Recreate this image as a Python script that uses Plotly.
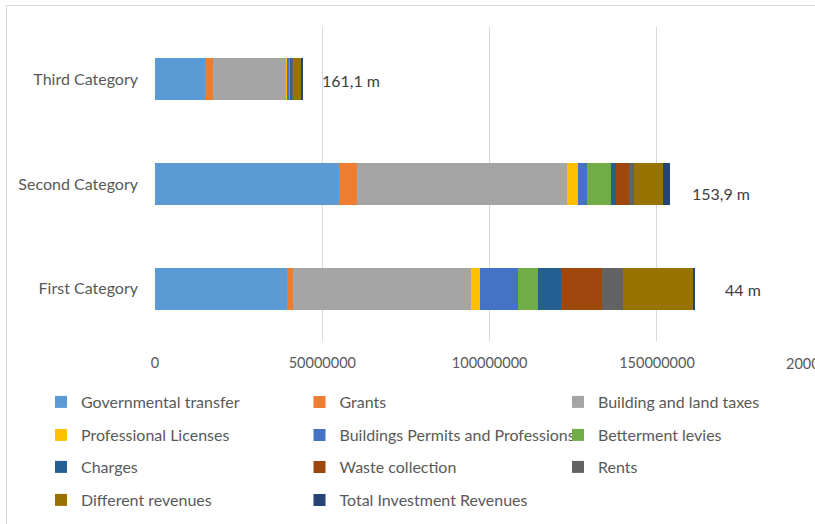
import plotly.graph_objects as go

categories = ["First Category", "Second Category", "Third Category"]

series_names = [
    "Governmental transfer", "Grants", "Building and land taxes",
    "Professional Licenses", "Buildings Permits and Professions", "Betterment levies",
    "Charges", "Waste collection", "Rents",
    "Different revenues", "Total Investment Revenues",
]
colors = ["#5B9BD5", "#ED7D31", "#A5A5A5", "#FFC000", "#4472C4", "#70AD47",
          "#255E91", "#9E480E", "#636363", "#997300", "#264478"]

# values in units (First, Second, Third)
governmental_transfer = [39.3e6, 55.1e6, 14.9e6]
grants = [1.8e6, 5.3e6, 2.4e6]
building_land_taxes = [53.4e6, 62.8e6, 22.1e6]
professional_licenses = [2.6e6, 3.2e6, 0.3e6]
building_permits = [11.4e6, 2.8e6, 0.2e6]
betterment_levies = [5.8e6, 7.1e6, 0.6e6]
charges = [7.0e6, 1.4e6, 0.2e6]
waste_collection = [12.3e6, 3.8e6, 0.4e6]
rents = [6.3e6, 1.6e6, 0.2e6]
different_revenues = [21.1e6, 8.8e6, 2.6e6]
total_investment = [0.5e6, 1.9e6, 0.3e6]

series_values = [governmental_transfer, grants, building_land_taxes, professional_licenses,
                 building_permits, betterment_levies, charges, waste_collection, rents,
                 different_revenues, total_investment]

total_labels = ["44 m", "153,9 m", "161,1 m"]
label_x = [169.8e6, 159.8e6, 49.3e6]
label_shift = [-1, -9, -1]

x_ticks = [0, 50000000, 100000000, 150000000]

FONT = "Lato"
TXT = "#595959"
W, H = 815, 524
L, R, T, B = 155, 0, 27, 183
plot_w = W - L - R
plot_h = H - T - B
x_max = plot_w / 167.33 * 50e6


def px_x(p):
    return (p - L) / plot_w


def px_y(p):
    return (H - B - p) / plot_h


fig = go.Figure()
legend_ids = ["legend"] + ["legend%d" % i for i in range(2, len(series_names) + 1)]
for i, (name, vals, col) in enumerate(zip(series_names, series_values, colors)):
    fig.add_trace(go.Bar(
        y=categories, x=vals, name=name, orientation="h",
        marker=dict(color=col, line=dict(width=0)),
        legend=legend_ids[i], showlegend=True,
    ))

for lab, xv, sh, cat in zip(total_labels, label_x, label_shift, categories):
    fig.add_annotation(x=xv, y=cat, text=lab, showarrow=False, xanchor="left",
                       yshift=sh, font=dict(family=FONT, size=16, color="#404040"))

# cut-off tick label at 200000000
fig.add_annotation(xref="paper", yref="paper", x=px_x(824), y=px_y(363),
                   text="200000000", showarrow=False, xanchor="center", yanchor="middle",
                   font=dict(family=FONT, size=14.5, color=TXT))

# outer chart border
fig.add_shape(type="rect", xref="paper", yref="paper",
              x0=px_x(6.5), x1=px_x(W + 20), y0=px_y(H + 20), y1=px_y(5.5),
              line=dict(color="#D9D9D9", width=1), fillcolor="rgba(0,0,0,0)", layer="below")

row_y = [402, 435, 467, 500]
col_x = [41, 299.5, 558]
legend_cfg = {}
for i, k in enumerate(legend_ids):
    legend_cfg[k] = dict(
        orientation="h", x=px_x(col_x[i % 3]), xanchor="left",
        y=px_y(row_y[i // 3]), yanchor="middle", visible=True,
        font=dict(family=FONT, size=16, color=TXT),
        bgcolor="rgba(0,0,0,0)", itemclick=False, itemdoubleclick=False,
    )

fig.update_layout(
    width=W, height=H, showlegend=True,
    margin=dict(l=L, r=R, t=T, b=B, autoexpand=False),
    barmode="stack", bargap=0.6,
    paper_bgcolor="white", plot_bgcolor="white",
    font=dict(family=FONT, size=16, color=TXT),
    xaxis=dict(range=[0, x_max], tickvals=x_ticks, ticktext=[str(v) for v in x_ticks],
               showgrid=True, gridcolor="#D9D9D9", gridwidth=1, zeroline=False,
               showline=False, ticks="", ticklabelstandoff=11, automargin=False,
               tickfont=dict(family=FONT, size=14.5, color=TXT)),
    yaxis=dict(showgrid=False, zeroline=False, showline=False, ticks="",
               ticklabelstandoff=16, automargin=False,
               tickfont=dict(family=FONT, size=16, color=TXT)),
    **legend_cfg,
)

fig.write_html("out.html", config={"displayModeBar": False},
               post_script="document.body.style.margin='0';")
